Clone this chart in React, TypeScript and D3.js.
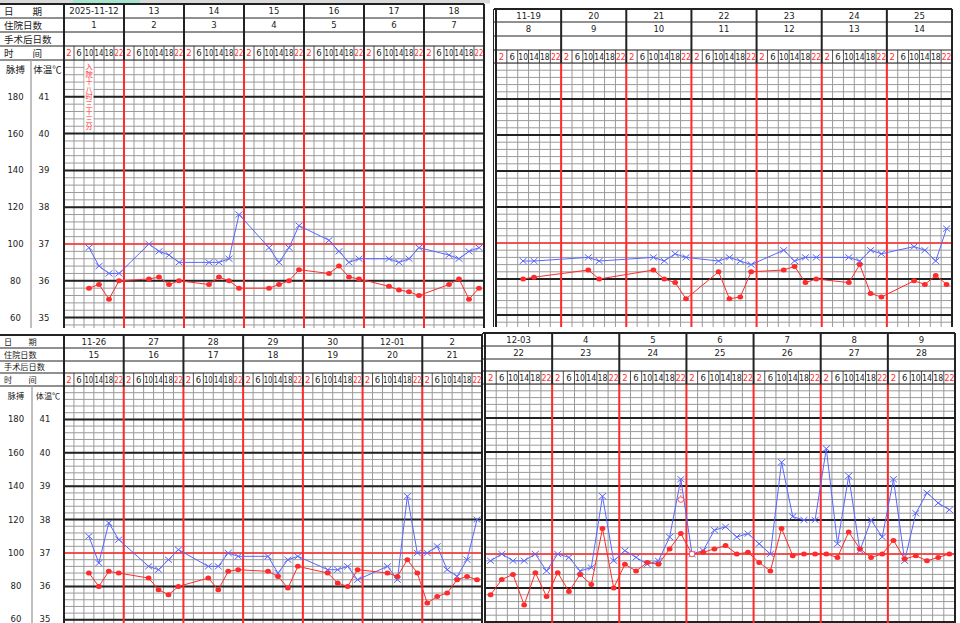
import React from "react";
import * as d3 from "d3";

const N = null;

const timeLabels = ["2", "6", "10", "14", "18", "22"];
const pulseTicks = [180, 160, 140, 120, 100, 80, 60];
const tempTicks = [41, 40, 39, 38, 37, 36, 35];
const rowLabels = ["日　　期", "住院日数", "手术后日数", "时　　间"];
const admitNote = "入院十八时三十三分";

const datesA = ["2025-11-12", "13", "14", "15", "16", "17", "18"];
const daysA = ["1", "2", "3", "4", "5", "6", "7"];
const tempA = [
  N, N, 35.8, 35.9, 35.5, 36.0,
  N, N, 36.05, 36.1, 35.9, 36.0,
  N, N, 35.9, 36.1, 36.0, 35.8,
  N, N, 35.8, 35.9, 36.0, 36.3,
  N, N, 36.2, 36.4, 36.1, 36.05,
  N, N, 35.85, 35.75, 35.7, 35.6,
  N, N, 35.9, 36.05, 35.5, 35.8,
];
const pulseA = [
  N, N, 98, 88, 84, 84,
  N, N, 100, 96, 94, 90,
  N, N, 90, 90, 92, 116,
  N, N, 98, 90, 98, 110,
  N, N, 102, 96, 90, 92,
  N, N, 92, 90, 92, 98,
  N, N, 94, 92, 96, 98,
];

const datesB = ["11-19", "20", "21", "22", "23", "24", "25"];
const daysB = ["8", "9", "10", "11", "12", "13", "14"];
const tempB = [
  N, N, 36.0, 36.05, N, N,
  N, N, 36.25, 36.0, N, N,
  N, N, 36.25, 36.0, 35.9, 35.45,
  N, N, 36.2, 35.45, 35.5, 36.2,
  N, N, 36.25, 36.35, 35.9, 36.0,
  N, N, 35.9, 36.4, 35.6, 35.5,
  N, N, 35.95, 35.85, 36.1, 35.85,
];
const pulseB = [
  N, N, 90, 90, N, N,
  N, N, 92, 90, N, N,
  N, N, 92, 90, 94, 92,
  N, N, 90, 92, 90, 88,
  N, N, 96, 90, 92, 92,
  N, N, 92, 90, 96, 94,
  N, N, 98, 96, 90, 108,
];

const datesC = ["11-26", "27", "28", "29", "30", "12-01", "2"];
const daysC = ["15", "16", "17", "18", "19", "20", "21"];
const tempC = [
  N, N, 36.4, 36.0, 36.45, 36.4,
  N, N, 36.25, 35.9, 35.75, 36.0,
  N, N, 36.25, 35.9, 36.45, 36.5,
  N, N, 36.45, 36.3, 35.95, 36.6,
  N, N, 36.4, 36.1, 36.0, 36.5,
  N, N, 36.4, 36.3, 36.8, 36.4,
  35.5, 35.7, 35.8, 36.2, 36.3, 36.2,
];
const pulseC = [
  N, N, 110, 94, 118, 108,
  N, N, 92, 90, 96, 102,
  N, N, 92, 92, 100, 98,
  N, N, 98, 88, 96, 98,
  N, N, 90, 90, 92, 84,
  N, N, 92, 84, 134, 100,
  100, 104, 90, 86, 96, 120,
];

const datesD = ["12-03", "4", "5", "6", "7", "8", "9"];
const daysD = ["22", "23", "24", "25", "26", "27", "28"];
const tempD = [
  35.8, 36.25, 36.4, 35.5, 36.45, 35.75,
  36.45, 35.9, 36.4, 36.1, 37.75, 36.0,
  36.7, 36.5, 36.75, 36.7, 37.15, 37.6,
  37.0, 37.05, 37.15, 37.25, 37.0, 37.05,
  36.75, 36.5, 37.75, 36.95, 37.0, 37.0,
  37.0, 36.9, 37.65, 37.15, 36.9, 37.0,
  37.4, 36.85, 36.95, 36.8, 36.9, 37.0,
];
const pulseD = [
  96, 100, 96, 96, 100, 90,
  100, 98, 90, 92, 134, 96,
  102, 98, 94, 96, 110, 144,
  100, 102, 114, 116, 110, 112,
  106, 100, 154, 122, 120, 120,
  162, 106, 146, 102, 120, 110,
  144, 96, 124, 136, 130, 126,
];
const hollowSlotsD = [18];
const coolSlotsD = [17];
const coolTempsD = [38.6];

const RED = "#ff2a2a";
const BLUE = "#5866ff";
const GRID = "#9a9a9a";
const DARK = "#222";
const FONT = "'DejaVu Sans', 'Noto Sans CJK SC', sans-serif";
const CJK = "'Noto Sans CJK SC', sans-serif";

type Layout = {
  id: string;
  x0: number;
  x1: number;
  rows: number[];
  bottom: number;
  ppd: number;
  labels: boolean;
  sep: number;
};

const layoutA: Layout = { id: "A", x0: 64, x1: 484, rows: [4, 18, 32, 46, 60], bottom: 328, ppd: 36.8, labels: true, sep: 31 };
const layoutB: Layout = { id: "B", x0: 496, x1: 952, rows: [9, 22, 36, 50, 63], bottom: 327, ppd: 36, labels: false, sep: 0 };
const layoutC: Layout = { id: "C", x0: 64, x1: 482, rows: [335, 348, 361, 373, 386], bottom: 623, ppd: 33.4, labels: true, sep: 32 };
const layoutD: Layout = { id: "D", x0: 485, x1: 955, rows: [333, 346, 359, 371, 384], bottom: 623, ppd: 34, labels: false, sep: 0 };

function Panel(props: {
  L: Layout;
  dates: string[];
  days: string[];
  temps: (number | null)[];
  pulses: (number | null)[];
  hollow?: number[];
  coolSlots?: number[];
  coolTemps?: number[];
  note?: string;
}) {
  const { L, dates, days, temps, pulses } = props;
  const hollow = props.hollow || [];
  const coolSlots = props.coolSlots || [];
  const coolTemps = props.coolTemps || [];
  const gridTop = L.rows[4];
  const xs = d3.scaleLinear().domain([0, 42]).range([L.x0, L.x1]);
  const yT = d3.scaleLinear().domain([42, 35]).range([gridTop, gridTop + 7 * L.ppd]);
  const yP = d3.scaleLinear().domain([200, 60]).range([gridTop, gridTop + 7 * L.ppd]);
  const slotW = xs(1) - xs(0);
  const tBottom = yT.invert(L.bottom);
  const nMinor = Math.floor((42 - tBottom) / 0.2 + 1e-6);
  const minor = d3.range(0, nMinor + 1).map((i) => 42 - i * 0.2);
  const left = L.labels ? 0 : L.x0 - 2;
  const clipId = "clip" + L.id;
  const rowH = d3.min(d3.range(0, 4).map((i) => L.rows[i + 1] - L.rows[i])) as number;
  const labelFs = Math.min(10, rowH / 1.47);

  const tempPts = temps
    .map((v, j) => (v == null ? null : ([xs(j + 0.5), yT(v)] as [number, number])))
    .filter((p): p is [number, number] => p !== null);
  const pulsePts = pulses
    .map((v, j) => (v == null ? null : ([xs(j + 0.5), yP(v)] as [number, number])))
    .filter((p): p is [number, number] => p !== null);
  const line = d3.line();

  return (
    <g>
      <defs>
        <clipPath id={clipId}>
          <rect x={L.x0} y={gridTop} width={L.x1 - L.x0} height={L.bottom - gridTop} />
        </clipPath>
      </defs>
      <rect x={left} y={L.rows[0]} width={L.x1 - left} height={L.bottom - L.rows[0]} fill="#fff" />
      <g clipPath={`url(#${clipId})`}>
        {minor.map((t, i) => (
          <line key={"h" + i} x1={L.x0} x2={L.x1} y1={yT(t)} y2={yT(t)} stroke={GRID} strokeWidth={1} />
        ))}
        {d3.range(0, 43).map((k) => (
          <line key={"v" + k} x1={xs(k)} x2={xs(k)} y1={gridTop} y2={L.bottom} stroke={GRID} strokeWidth={1} />
        ))}
        {tempTicks.filter((t) => t !== 37).map((t) => (
          <line key={"m" + t} x1={L.x0} x2={L.x1} y1={yT(t)} y2={yT(t)} stroke={DARK} strokeWidth={2} />
        ))}
        <line x1={L.x0} x2={L.x1} y1={yT(37)} y2={yT(37)} stroke={RED} strokeWidth={1.6} />
        {d3.range(1, 7).map((d) => (
          <line key={"d" + d} x1={xs(d * 6)} x2={xs(d * 6)} y1={gridTop} y2={L.bottom} stroke={RED} strokeWidth={2} />
        ))}
        {props.note && (
          <g>
            <rect x={xs(2) + 0.5} y={gridTop + 2} width={slotW - 1} height={props.note.length * 7.5 + 2} fill="#fff" />
            <text
              x={xs(2.5)}
              y={gridTop + 3}
              fontSize={7.2}
              fill={RED}
              fontFamily={CJK}
              letterSpacing={0.3}
              style={{ writingMode: "vertical-rl", textOrientation: "upright" } as React.CSSProperties}
            >
              {props.note}
            </text>
          </g>
        )}
        <path d={line(pulsePts) || ""} fill="none" stroke={BLUE} strokeWidth={1} />
        {pulsePts.map(([x, y], i) => (
          <g key={"p" + i} stroke={BLUE} strokeWidth={1}>
            <line x1={x - 3.5} x2={x + 3.5} y1={y - 3} y2={y + 3} />
            <line x1={x - 3.5} x2={x + 3.5} y1={y + 3} y2={y - 3} />
          </g>
        ))}
        <path d={line(tempPts) || ""} fill="none" stroke={RED} strokeWidth={1} />
        {temps.map((v, j) =>
          v == null ? null : hollow.includes(j) ? (
            <circle key={"t" + j} cx={xs(j + 0.5)} cy={yT(v)} r={2.8} fill="#fff" stroke={RED} strokeWidth={0.8} />
          ) : (
            <ellipse key={"t" + j} cx={xs(j + 0.5)} cy={yT(v)} rx={2.9} ry={2.5} fill={RED} />
          )
        )}
        {coolSlots.map((j, i) => (
          <g key={"c" + i}>
            <line
              x1={xs(j + 0.5)}
              x2={xs(j + 0.5)}
              y1={yT(coolTemps[i]) - 3}
              y2={pulses[j] != null ? yP(pulses[j] as number) + 3 : yT(coolTemps[i]) - 12}
              stroke={RED}
              strokeWidth={0.8}
              strokeDasharray="1.5,1.5"
            />
            <circle cx={xs(j + 0.5)} cy={yT(coolTemps[i])} r={2.8} fill="#fff" stroke={RED} strokeWidth={0.8} />
          </g>
        ))}
      </g>
      {L.rows.map((y, i) => (
        <line key={"r" + i} x1={left} x2={L.x1} y1={y} y2={y} stroke={DARK} strokeWidth={i === 0 ? 2 : 1} />
      ))}
      {d3.range(0, 43).map((k) => (
        <line key={"ts" + k} x1={xs(k)} x2={xs(k)} y1={L.rows[3]} y2={L.rows[4]} stroke={DARK} strokeWidth={0.8} />
      ))}
      {d3.range(0, 8).map((d) => (
        <line key={"hd" + d} x1={xs(d * 6)} x2={xs(d * 6)} y1={L.rows[0]} y2={L.rows[4]} stroke={DARK} strokeWidth={2} />
      ))}
      {dates.map((s, d) => (
        <text key={"dt" + d} x={xs(d * 6 + 3)} y={(L.rows[0] + L.rows[1]) / 2 + 3.3} fontSize={8.5} fill={DARK} textAnchor="middle" fontFamily={FONT}>
          {s}
        </text>
      ))}
      {days.map((s, d) => (
        <text key={"dy" + d} x={xs(d * 6 + 3)} y={(L.rows[1] + L.rows[2]) / 2 + 3.3} fontSize={8.5} fill={DARK} textAnchor="middle" fontFamily={FONT}>
          {s}
        </text>
      ))}
      {d3.range(0, 42).map((k) => {
        const lab = timeLabels[k % 6];
        const red = lab === "2" || lab === "22";
        return (
          <text
            key={"tl" + k}
            x={xs(k + 0.5)}
            y={(L.rows[3] + L.rows[4]) / 2 + 3.2}
            fontSize={8.5}
            fill={red ? RED : DARK}
            textAnchor="middle"
            fontFamily={FONT}
            {...(lab.length > 1 ? { textLength: slotW - 1.2, lengthAdjust: "spacingAndGlyphs" } : {})}
          >
            {lab}
          </text>
        );
      })}
      {L.labels && (
        <g fontFamily={CJK} fill={DARK}>
          {rowLabels.map((s, i) => (
            <text key={"rl" + i} x={4} y={(L.rows[i] + L.rows[i + 1]) / 2 + labelFs * 0.38} fontSize={labelFs}>
              {s}
            </text>
          ))}
          <line x1={L.sep} x2={L.sep} y1={gridTop} y2={L.bottom} stroke="#aaa" strokeWidth={1.5} />
          <text x={L.sep / 2} y={gridTop + 13} fontSize={labelFs} textAnchor="middle">脉搏</text>
          <text x={(L.sep + L.x0) / 2} y={gridTop + 13} fontSize={labelFs} textAnchor="middle">体温℃</text>
          {pulseTicks.map((p) => (
            <text key={"pt" + p} x={L.sep / 2} y={Math.min(yP(p) + 3, L.bottom - 1)} fontSize={8.5} textAnchor="middle" fontFamily={FONT}>
              {p}
            </text>
          ))}
          {tempTicks.map((t) => (
            <text key={"tt" + t} x={L.sep + 13} y={Math.min(yT(t) + 3, L.bottom - 1)} fontSize={8.5} textAnchor="middle" fontFamily={FONT}>
              {t}
            </text>
          ))}
        </g>
      )}
      <line x1={L.x0} x2={L.x0} y1={L.rows[0]} y2={L.bottom} stroke={DARK} strokeWidth={2} />
      <line x1={L.x1} x2={L.x1} y1={L.rows[0]} y2={L.bottom} stroke={DARK} strokeWidth={2} />
      {!L.labels && <line x1={L.x0 - 2.5} x2={L.x0 - 2.5} y1={L.rows[0]} y2={L.bottom} stroke={DARK} strokeWidth={1} />}
    </g>
  );
}

export default function App() {
  return (
    <div style={{ position: "fixed", left: 0, top: 0 }}>
      <svg width={960} height={623} style={{ display: "block", background: "#fff" }}>
        <rect x={0} y={0} width={490} height={3.5} fill="#d9d9d9" />
        <rect x={73} y={0} width={67} height={3.5} fill="#a6e3cc" />
        <Panel L={layoutA} dates={datesA} days={daysA} temps={tempA} pulses={pulseA} note={admitNote} />
        <Panel L={layoutB} dates={datesB} days={daysB} temps={tempB} pulses={pulseB} />
        <Panel L={layoutC} dates={datesC} days={daysC} temps={tempC} pulses={pulseC} />
        <Panel
          L={layoutD}
          dates={datesD}
          days={daysD}
          temps={tempD}
          pulses={pulseD}
          hollow={hollowSlotsD}
          coolSlots={coolSlotsD}
          coolTemps={coolTempsD}
        />
      </svg>
    </div>
  );
}
